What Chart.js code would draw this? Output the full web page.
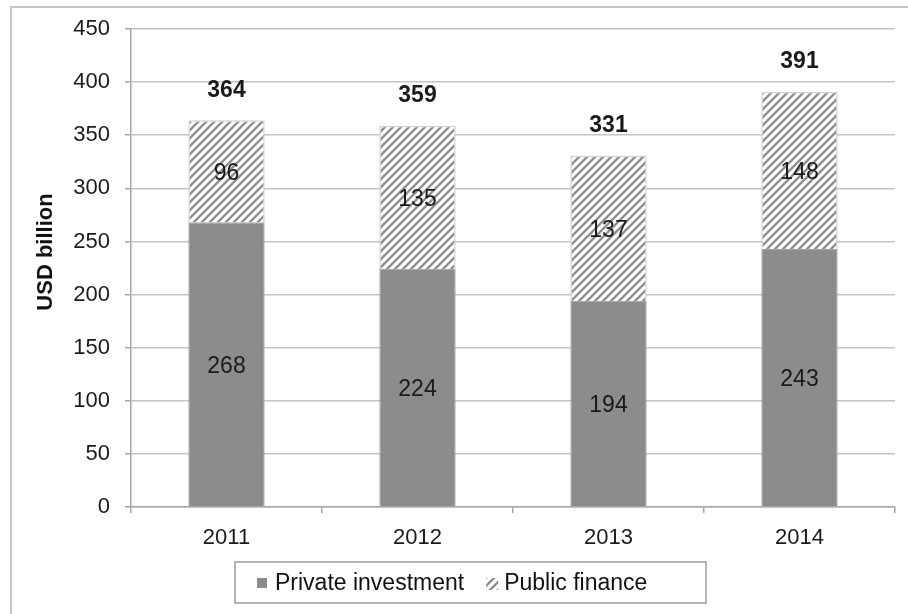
<!DOCTYPE html>
<html>
<head>
<meta charset="utf-8">
<script src="https://cdn.jsdelivr.net/npm/chart.js@4.4.1/dist/chart.umd.min.js"></script>
<style>
  html, body { margin: 0; padding: 0; background: #fff; }
  #wrap { position: relative; width: 908px; height: 614px; }
</style>
</head>
<body>
<div id="wrap"><canvas id="chart" width="908" height="614"></canvas></div>
<script>
const years = ['2011', '2012', '2013', '2014'];
const privateInvestment = [268, 224, 194, 243];
const publicFinance = [96, 135, 137, 148];
const yMax = 450;
const yStep = 50;

const FONT = '"Liberation Sans", Arial, Helvetica, sans-serif';
const privateColor = '#8c8c8c';

const canvas = document.getElementById('chart');
const ctx = canvas.getContext('2d');

// diagonal hatch for public finance
function makeHatch() {
    const c = document.createElement('canvas');
    c.width = 8;
    c.height = 8;
    const g = c.getContext('2d');
    g.fillStyle = '#ffffff';
    g.fillRect(0, 0, 8, 8);
    g.strokeStyle = '#8e8e8e';
    g.lineWidth = 2.3;
    g.beginPath();
    g.moveTo(-2, 10); g.lineTo(10, -2);
    g.moveTo(-6, 6); g.lineTo(6, -6);
    g.moveTo(2, 14); g.lineTo(14, 2);
    g.stroke();
    return ctx.createPattern(c, 'repeat');
}
const hatch = makeHatch();

const frame = {
    id: 'frame',
    beforeDraw(chart) {
        const c = chart.ctx;
        c.save();
        c.strokeStyle = '#c6c6c6';
        c.lineWidth = 2;
        c.beginPath();
        c.moveTo(11, 6); c.lineTo(11, 614);
        c.moveTo(10, 7); c.lineTo(908, 7);
        c.stroke();

        // y axis title
        c.translate(46, 252);
        c.rotate(-Math.PI / 2);
        c.font = 'bold 22px ' + FONT;
        c.fillStyle = '#111';
        c.textAlign = 'center';
        c.textBaseline = 'middle';
        c.fillText('USD billion', 0, 0);
        c.restore();
    },
    afterDraw(chart) {
        // legend box
        const c = chart.ctx;
        c.save();
        c.strokeStyle = '#b4b4b4';
        c.lineWidth = 2;
        c.strokeRect(235, 562, 471, 41);
        c.font = '23px ' + FONT;
        c.textBaseline = 'middle';
        const cy = 583;
        let x = 257;
        chart.data.datasets.forEach((ds, i) => {
            c.fillStyle = i === 0 ? privateColor : hatch;
            c.fillRect(x, cy - 5, i === 0 ? 10 : 12, i === 0 ? 10 : 12);
            x += 18;
            c.fillStyle = '#111';
            c.fillText(ds.label, x, cy + 1);
            x += c.measureText(ds.label).width + 22;
        });
        c.restore();
    }
};

const barLabels = {
    id: 'barLabels',
    afterDatasetsDraw(chart) {
        const c = chart.ctx;
        c.save();
        c.textAlign = 'center';
        c.textBaseline = 'middle';
        c.fillStyle = '#1a1a1a';
        c.font = '23px ' + FONT;
        chart.data.datasets.forEach((ds, di) => {
            chart.getDatasetMeta(di).data.forEach((bar, i) => {
                c.fillText(ds.data[i], bar.x, (bar.y + bar.base) / 2 + 2);
            });
        });
        c.font = 'bold 23px ' + FONT;
        chart.getDatasetMeta(1).data.forEach((bar, i) => {
            const total = privateInvestment[i] + publicFinance[i];
            c.fillText(total, bar.x, bar.y - 30);
        });
        c.restore();
    }
};

new Chart(ctx, {
    type: 'bar',
    data: {
        labels: years,
        datasets: [{
            label: 'Private investment',
            data: privateInvestment,
            backgroundColor: privateColor,
            borderColor: '#a8a8a8',
            borderWidth: 1,
            barPercentage: 0.4,
            categoryPercentage: 1
        }, {
            label: 'Public finance',
            data: publicFinance,
            backgroundColor: hatch,
            borderColor: '#d2d2d2',
            borderWidth: 1.5,
            barPercentage: 0.4,
            categoryPercentage: 1
        }]
    },
    options: {
        responsive: false,
        animation: false,
        devicePixelRatio: 1,
        layout: {
            padding: { left: 0, top: 29, right: 13, bottom: 0 }
        },
        plugins: {
            legend: { display: false },
            tooltip: { enabled: false }
        },
        scales: {
            x: {
                stacked: true,
                offset: true,
                afterFit(scale) { scale.height = 107; },
                grid: {
                    offset: true,
                    drawOnChartArea: false,
                    color: '#a6a6a6',
                    lineWidth: 1.5,
                    tickLength: 6
                },
                border: { color: '#a6a6a6', width: 1.5 },
                ticks: {
                    color: '#1a1a1a',
                    padding: 12,
                    font: { family: FONT, size: 22 }
                }
            },
            y: {
                stacked: true,
                min: 0,
                max: yMax,
                afterFit(scale) { scale.width = 131; },
                grid: {
                    color: '#c4c4c4',
                    lineWidth: 1.5,
                    tickLength: 6,
                    tickColor: '#a6a6a6'
                },
                border: { color: '#a6a6a6', width: 1.5 },
                ticks: {
                    stepSize: yStep,
                    color: '#1a1a1a',
                    padding: 15,
                    font: { family: FONT, size: 22 }
                }
            }
        }
    },
    plugins: [frame, barLabels]
});
</script>
</body>
</html>
